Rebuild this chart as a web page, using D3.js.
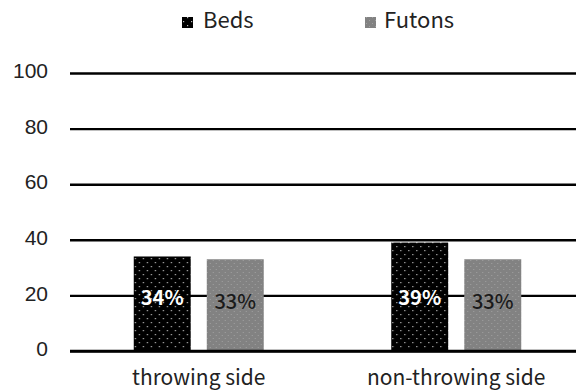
<!DOCTYPE html>
<html>
<head>
<meta charset="utf-8">
<script src="https://cdn.jsdelivr.net/npm/d3@7"></script>
<style>
  body { margin: 0; background: #fff; }
  svg { display: block; font-family: "Noto Sans CJK JP", "Noto Sans", sans-serif; }
</style>
</head>
<body>
<div id="chart"></div>
<script>
// data
const categories = ['throwing side', 'non-throwing side'];
const series = ['Beds', 'Futons'];
const beds = [34, 39];
const futons = [33, 33];
const yTicks = [0, 20, 40, 60, 80, 100];

const W = 576, H = 390;
const margin = { top: 73, right: -9, bottom: 39, left: 70 };
const innerW = W - margin.left - margin.right;
const innerH = H - margin.top - margin.bottom;

const svg = d3.select('#chart').append('svg')
  .attr('width', W)
  .attr('height', H);

// patterns for the dotted fills
const defs = svg.append('defs');
const bedPat = defs.append('pattern')
  .attr('id', 'bedPat').attr('patternUnits', 'userSpaceOnUse')
  .attr('width', 8).attr('height', 8);
bedPat.append('rect').attr('width', 8).attr('height', 8).attr('fill', '#000');
bedPat.append('rect').attr('x', 1).attr('y', 1).attr('width', 1.2).attr('height', 1.2).attr('fill', '#bbb');
bedPat.append('rect').attr('x', 5).attr('y', 5).attr('width', 1.2).attr('height', 1.2).attr('fill', '#bbb');

const futPat = defs.append('pattern')
  .attr('id', 'futPat').attr('patternUnits', 'userSpaceOnUse')
  .attr('width', 6).attr('height', 6);
futPat.append('rect').attr('width', 6).attr('height', 6).attr('fill', '#828282');
futPat.append('rect').attr('x', 1).attr('y', 1).attr('width', 1).attr('height', 1).attr('fill', '#a0a0a0');
futPat.append('rect').attr('x', 4).attr('y', 4).attr('width', 1).attr('height', 1).attr('fill', '#a0a0a0');

const fills = { Beds: 'url(#bedPat)', Futons: 'url(#futPat)' };

const g = svg.append('g')
  .attr('transform', 'translate(' + margin.left + ',' + margin.top + ')');

const x0 = d3.scaleBand().domain(categories).range([0, innerW]).padding(0);
const x1 = d3.scaleBand().domain(series).range([0, 130]).paddingInner(0.22);
const y = d3.scaleLinear().domain([0, 100]).range([innerH, 0]);

// gridlines + y labels
const yAxis = g.append('g')
  .call(d3.axisLeft(y).tickValues(yTicks).tickSize(-innerW).tickPadding(22));
yAxis.select('.domain').remove();
yAxis.selectAll('.tick line').attr('stroke', '#000').attr('stroke-width', 2.4);
yAxis.selectAll('.tick text')
  .attr('fill', '#222').attr('y', -2).style('font-size', '21px');

const rows = categories.map((c, i) => ({ cat: c, vals: [
  { s: 'Beds', v: beds[i] }, { s: 'Futons', v: futons[i] }] }));

const groups = g.selectAll('.grp').data(rows).enter().append('g')
  .attr('class', 'grp')
  .attr('transform', d => 'translate(' + (x0(d.cat) + x0.bandwidth() / 2 - 65) + ',0)');

groups.selectAll('rect').data(d => d.vals).enter().append('rect')
  .attr('x', d => x1(d.s))
  .attr('y', d => y(d.v))
  .attr('width', x1.bandwidth())
  .attr('height', d => y(0) - y(d.v))
  .attr('fill', d => fills[d.s]);

// redraw the line that passes through the bars at 0
g.append('line')
  .attr('x1', 0).attr('x2', innerW)
  .attr('y1', y(0)).attr('y2', y(0))
  .attr('stroke', '#000').attr('stroke-width', 2.4);

// value labels
groups.selectAll('.lbl').data(d => d.vals).enter().append('text')
  .attr('class', 'lbl')
  .attr('x', d => x1(d.s) + x1.bandwidth() / 2)
  .attr('y', d => (d.s === 'Beds' ? 298 : 302) - margin.top)
  .attr('text-anchor', 'middle')
  .attr('dy', '0.35em')
  .style('font-size', '20px')
  .style('font-weight', d => d.s === 'Beds' ? 'bold' : '500')
  .attr('fill', d => d.s === 'Beds' ? '#fff' : '#1a1a1a')
  .text(d => d.v + '%');

// category labels
g.selectAll('.cat').data(categories).enter().append('text')
  .attr('class', 'cat')
  .attr('x', d => x0(d) + x0.bandwidth() / 2)
  .attr('y', innerH + 34)
  .attr('text-anchor', 'middle')
  .attr('fill', '#222')
  .style('font-size', '21px')
  .text(d => d);

// legend
const legX = [182, 365];
const legTextX = [21, 19];
const leg = svg.selectAll('.leg').data(series).enter().append('g')
  .attr('class', 'leg')
  .attr('transform', (d, i) => 'translate(' + legX[i] + ',28)');
leg.append('rect')
  .attr('x', 0).attr('y', -11).attr('width', 11).attr('height', 11)
  .attr('fill', d => fills[d]);
leg.append('text')
  .attr('x', (d, i) => legTextX[i])
  .attr('fill', '#222')
  .style('font-size', '22px')
  .text(d => d);
</script>
</body>
</html>
